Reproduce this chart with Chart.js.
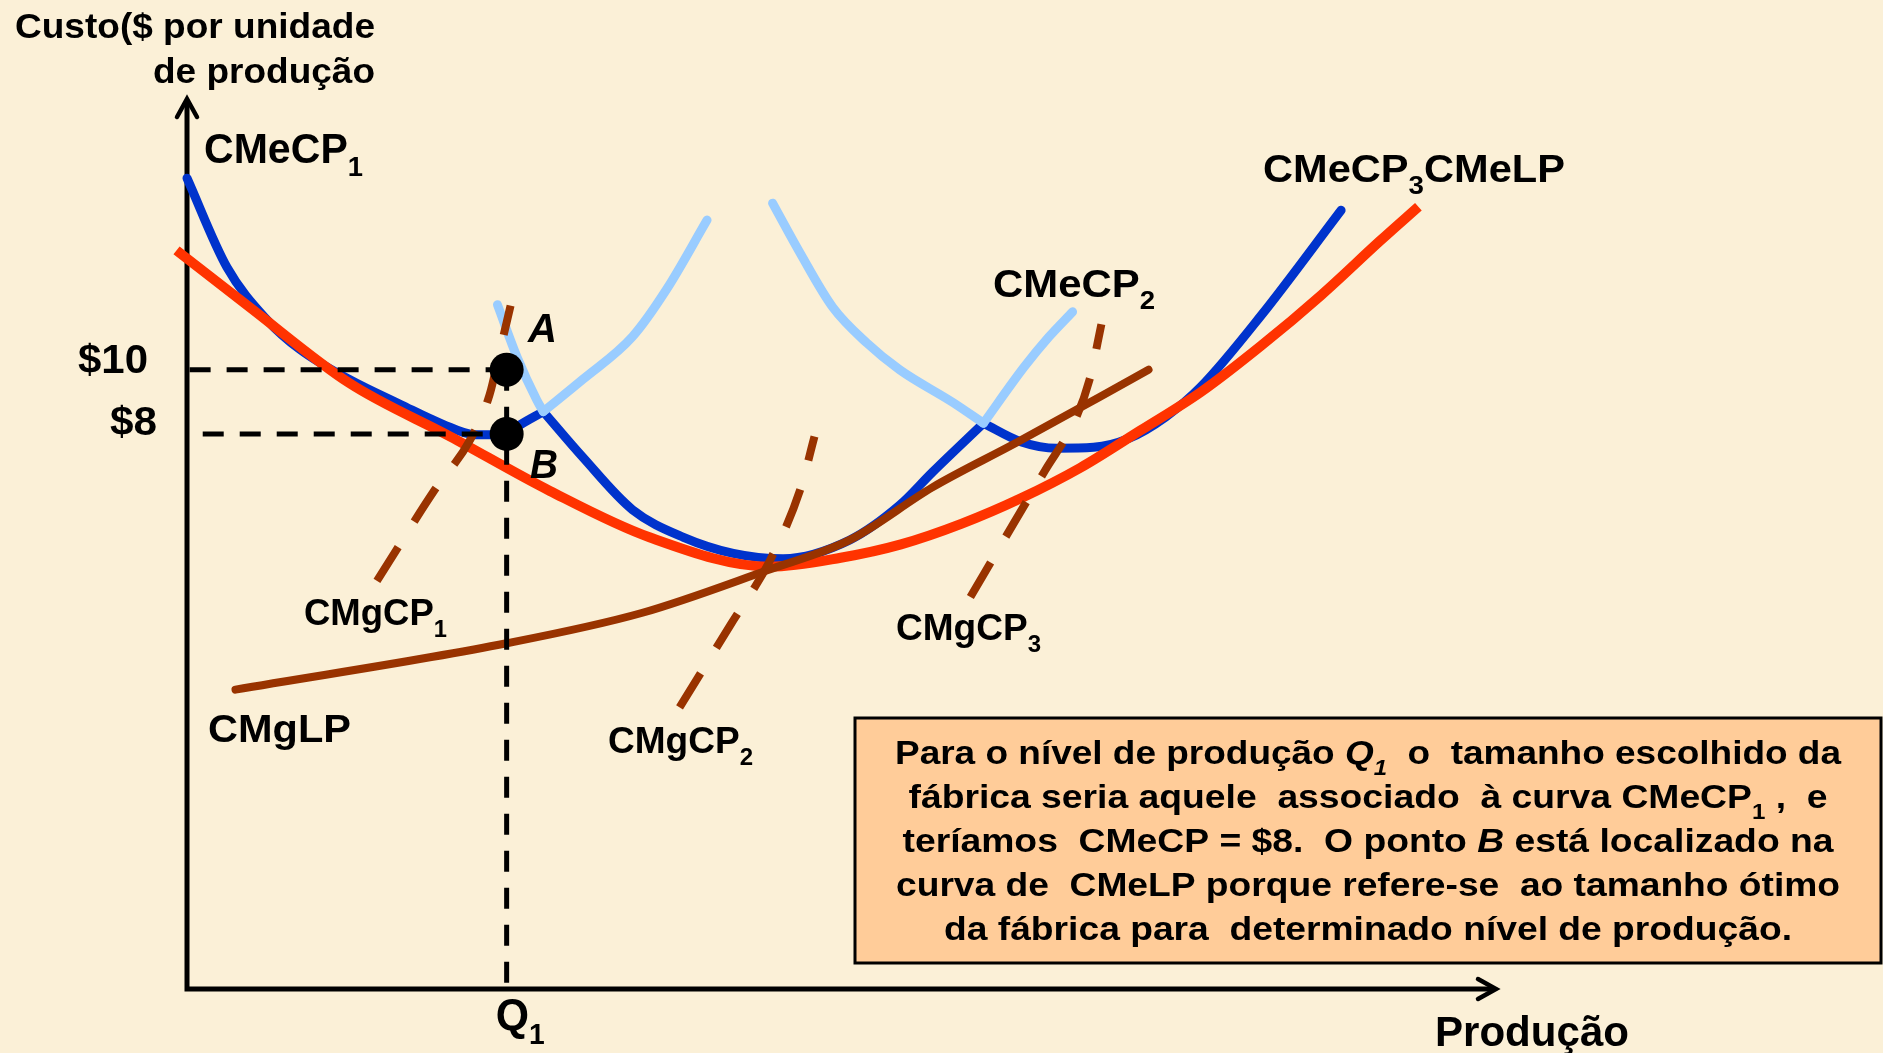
<!DOCTYPE html>
<html>
<head>
<meta charset="utf-8">
<script src="https://cdn.jsdelivr.net/npm/chart.js@4/dist/chart.umd.min.js"></script>
<style>
  html, body { margin: 0; padding: 0; background: #fbf0d7; }
  canvas { display: block; }
</style>
</head>
<body>
<canvas id="c" width="1883" height="1053"></canvas>
<script>
// ============ DADOS (unidades do desenho: produção 0-100, custo 0-100) ============
const q1 = 24.4;
const custo10 = 69.5;
const custo8 = 62.3;

// CMeLP (vermelho)
const cmelpX = [-0.8, 4.8, 12.4, 20.1, 27.7, 35.3, 44.5, 49.9, 54.5, 59.1, 63.7, 68.2, 72.8, 77.4, 82.0, 86.6, 91.1, 94.0];
const cmelpY = [82.9, 76.5, 68.0, 62.0, 55.9, 50.7, 47.4, 48.4, 49.9, 52.2, 55.1, 58.5, 62.7, 67.0, 72.2, 77.9, 84.0, 87.8];

// CMgLP (marrom)
const cmglpX = [3.7, 24.4, 34.7, 44.3, 50.6, 56.9, 63.3, 69.6, 73.4];
const cmglpY = [33.6, 38.8, 42.2, 47.0, 50.4, 56.3, 61.3, 66.4, 69.5];

// CMeCP1: trecho baixo (azul) e trecho alto (azul claro)
const cme1X = [0, 3.05, 6.1, 8.6, 12.4, 16.3, 19.5, 22.0, 24.4, 25.2, 27.2];
const cme1Y = [91.0, 81.0, 75.1, 71.8, 68.4, 65.6, 63.4, 62.2, 62.2, 63.1, 64.8];
const cme1AltoX = [27.2, 30.2, 34.0, 36.6, 39.7];
const cme1AltoY = [64.8, 68.4, 73.2, 78.5, 86.3];

// CMeCP2
const cme2EsqX = [23.7, 25.2, 26.7, 27.2];
const cme2EsqY = [76.8, 70.9, 66.1, 64.8];
const cme2X = [27.2, 30.2, 34.0, 37.9, 41.7, 45.5, 50.6, 54.4, 56.9, 60.8];
const cme2Y = [64.8, 59.7, 53.8, 50.7, 48.9, 48.3, 50.4, 54.3, 58.0, 63.5];
const cme2DirX = [60.8, 63.9, 65.8, 67.6];
const cme2DirY = [63.5, 69.8, 73.2, 76.0];

// CMeCP3
const cme3EsqX = [44.7, 46.8, 49.3, 51.9, 54.4, 58.5, 60.8];
const cme3EsqY = [88.2, 82.6, 76.5, 72.5, 69.5, 65.8, 63.5];
const cme3X = [60.8, 63.7, 66.4, 69.2, 71.9, 74.7, 77.4, 82.0, 88.1];
const cme3Y = [63.5, 61.4, 60.7, 60.8, 61.8, 64.2, 67.6, 75.6, 87.4];

// CMgCP1, CMgCP2, CMgCP3 (tracejadas)
const cmg1X = [14.5, 18.9, 21.6, 23.1, 23.9, 24.7];
const cmg1Y = [45.8, 56.0, 61.6, 66.7, 71.7, 76.7];
const cmg2X = [37.6, 41.5, 44.5, 46.8, 47.9];
const cmg2Y = [31.6, 40.9, 48.1, 56.0, 62.0];
const cmg3X = [59.8, 62.8, 65.5, 67.8, 68.9, 69.8];
const cmg3Y = [44.0, 51.5, 58.2, 63.9, 68.4, 74.6];

// ============ CORES ============
const AZUL = '#0033cc';
const AZUL_CLARO = '#99ccff';
const VERMELHO = '#ff3300';
const MARROM = '#993300';
const FONTE = '"Liberation Sans", Arial, Helvetica, sans-serif';

function pts(xs, ys) { return xs.map((x, i) => ({ x, y: ys[i] })); }

function curve(xs, ys, color, width, opts) {
  return Object.assign({
    data: pts(xs, ys),
    borderColor: color,
    borderWidth: width,
    borderCapStyle: 'round',
    borderJoinStyle: 'round',
    cubicInterpolationMode: 'monotone',
    pointRadius: 0,
    fill: false,
    clip: false
  }, opts || {});
}

function guide(xs, ys) {
  return curve(xs, ys, '#000', 5, { borderDash: [21, 16], borderCapStyle: 'butt', cubicInterpolationMode: 'default', tension: 0 });
}

// ============ TEXTO ============
// parts: [texto, estilo] estilo: 'i' itálico, 's' subscrito
function drawRich(ctx, parts, x, y, size, width, align) {
  const fontOf = (st) => (st.includes('i') ? 'italic ' : '') + 'bold ' +
    Math.round(st.includes('s') ? size * 0.66 : size) + 'px ' + FONTE;
  let total = 0;
  parts.forEach(([t, st]) => { ctx.font = fontOf(st); total += ctx.measureText(t).width; });
  const sx = width ? width / total : 1;
  let x0 = x;
  if (align === 'center') x0 = x - total * sx / 2;
  if (align === 'right') x0 = x - total * sx;
  ctx.save();
  ctx.translate(x0, y);
  ctx.scale(sx, 1);
  ctx.fillStyle = '#000';
  ctx.textBaseline = 'alphabetic';
  ctx.textAlign = 'left';
  let cx = 0;
  parts.forEach(([t, st]) => {
    ctx.font = fontOf(st);
    ctx.fillText(t, cx, st.includes('s') ? size * 0.32 : 0);
    cx += ctx.measureText(t).width;
  });
  ctx.restore();
}

const labels = [
  { parts: [['Custo($ por unidade', '']], x: 15, y: 38, size: 35, w: 360 },
  { parts: [['de produção', '']], x: 153, y: 83, size: 35, w: 222 },
  { parts: [['CMeCP', ''], ['1', 's']], x: 204, y: 163, size: 42, w: 159 },
  { parts: [['A', 'i']], x: 528, y: 342, size: 41, w: 29 },
  { parts: [['B', 'i']], x: 530, y: 478, size: 41, w: 28 },
  { parts: [['CMeCP', ''], ['3', 's'], ['CMeLP', '']], x: 1263, y: 182, size: 39, w: 302 },
  { parts: [['CMeCP', ''], ['2', 's']], x: 993, y: 297, size: 38, w: 162 },
  { parts: [['CMgCP', ''], ['1', 's']], x: 304, y: 625, size: 37, w: 143 },
  { parts: [['CMgLP', '']], x: 208, y: 742, size: 39, w: 143 },
  { parts: [['CMgCP', ''], ['2', 's']], x: 608, y: 753, size: 37, w: 145 },
  { parts: [['CMgCP', ''], ['3', 's']], x: 896, y: 640, size: 37, w: 145 },
  { parts: [['Produção', '']], x: 1435, y: 1046, size: 42, w: 194 }
];

const boxLines = [
  { parts: [['Para o nível de produção ', ''], ['Q', 'i'], ['1', 'is'], ['  o  tamanho escolhido da', '']], y: 764, w: 946 },
  { parts: [['fábrica seria aquele  associado  à curva CMeCP', ''], ['1', 's'], [' ,  e', '']], y: 808, w: 919 },
  { parts: [['teríamos  CMeCP = $8.  O ponto ', ''], ['B', 'i'], [' está localizado na', '']], y: 852, w: 931 },
  { parts: [['curva de  CMeLP porque refere-se  ao tamanho ótimo', '']], y: 896, w: 944 },
  { parts: [['da fábrica para  determinado nível de produção.', '']], y: 940, w: 848 }
];

// ============ PLUGINS ============
const paper = {
  id: 'paper',
  beforeDraw(chart) {
    const ctx = chart.ctx;
    ctx.save();
    ctx.fillStyle = '#fbf0d7';
    ctx.fillRect(0, 0, chart.width, chart.height);
    ctx.restore();
  }
};

const axes = {
  id: 'axes',
  beforeDatasetsDraw(chart) {
    const { ctx, scales: { x, y } } = chart;
    const x0 = x.getPixelForValue(0), y0 = y.getPixelForValue(0);
    const top = y.getPixelForValue(100), right = x.getPixelForValue(100);
    ctx.save();
    ctx.strokeStyle = '#000';
    ctx.lineWidth = 5;
    ctx.lineCap = 'butt';
    ctx.beginPath();
    ctx.moveTo(x0, top + 2); ctx.lineTo(x0, y0);
    ctx.lineTo(right - 2, y0);
    ctx.stroke();
    ctx.lineWidth = 4.5;
    ctx.lineCap = 'round';
    ctx.lineJoin = 'miter';
    ctx.beginPath();
    ctx.moveTo(x0 - 10, top + 19); ctx.lineTo(x0, top + 1); ctx.lineTo(x0 + 10, top + 19);
    ctx.moveTo(right - 19, y0 - 10); ctx.lineTo(right - 1, y0); ctx.lineTo(right - 19, y0 + 10);
    ctx.stroke();
    ctx.restore();
  }
};

const texts = {
  id: 'texts',
  afterDraw(chart) {
    const { ctx, scales: { x, y } } = chart;
    // caixa de texto
    ctx.save();
    ctx.fillStyle = '#ffcc99';
    ctx.fillRect(855, 718, 1026, 245);
    ctx.strokeStyle = '#000';
    ctx.lineWidth = 3;
    ctx.strokeRect(855, 718, 1026, 245);
    ctx.restore();
    boxLines.forEach(l => drawRich(ctx, l.parts, 1368, l.y, 34, l.w, 'center'));

    labels.forEach(l => drawRich(ctx, l.parts, l.x, l.y, l.size, l.w, 'left'));

    // marcas dos eixos
    const x0 = x.getPixelForValue(0);
    drawRich(ctx, [['$10', '']], x0 - 39, y.getPixelForValue(custo10) + 3, 40, 70, 'right');
    drawRich(ctx, [['$8', '']], x0 - 30, y.getPixelForValue(custo8) + 1, 40, 47, 'right');
    drawRich(ctx, [['Q', ''], ['1', 's']], x.getPixelForValue(q1) - 11, y.getPixelForValue(0) + 41, 44, 49, 'left');
  }
};

// ============ GRÁFICO ============
new Chart(document.getElementById('c'), {
  type: 'line',
  data: {
    datasets: [
      // pontos A e B
      {
        data: [{ x: q1, y: custo10 }, { x: q1, y: custo8 }],
        showLine: false,
        pointRadius: 17,
        pointBackgroundColor: '#000',
        pointBorderWidth: 0,
        clip: false
      },
      guide([0.2, q1], [custo10, custo10]),
      guide([1.2, q1], [custo8, custo8]),
      guide([q1, q1], [custo10, 0]),
      curve(cmg1X, cmg1Y, MARROM, 8, { borderDash: [40, 30], borderCapStyle: 'butt' }),
      curve(cmg2X, cmg2Y, MARROM, 8, { borderDash: [40, 30], borderCapStyle: 'butt' }),
      curve(cmg3X, cmg3Y, MARROM, 8, { borderDash: [40, 30], borderCapStyle: 'butt' }),
      curve(cmglpX, cmglpY, MARROM, 8),
      curve(cmelpX, cmelpY, VERMELHO, 10, { borderCapStyle: 'butt' }),
      curve(cme1AltoX, cme1AltoY, AZUL_CLARO, 9),
      curve(cme2EsqX, cme2EsqY, AZUL_CLARO, 9),
      curve(cme2DirX, cme2DirY, AZUL_CLARO, 9),
      curve(cme3EsqX, cme3EsqY, AZUL_CLARO, 9),
      curve(cme1X, cme1Y, AZUL, 9),
      curve(cme2X, cme2Y, AZUL, 9),
      curve(cme3X, cme3Y, AZUL, 9)
    ]
  },
  options: {
    responsive: false,
    animation: false,
    devicePixelRatio: 1,
    layout: { padding: { left: 187, right: 386, top: 98, bottom: 64 } },
    scales: {
      x: { type: 'linear', min: 0, max: 100, display: false },
      y: { type: 'linear', min: 0, max: 100, display: false }
    },
    plugins: { legend: { display: false }, tooltip: { enabled: false } },
    events: []
  },
  plugins: [paper, axes, texts]
});
</script>
</body>
</html>
